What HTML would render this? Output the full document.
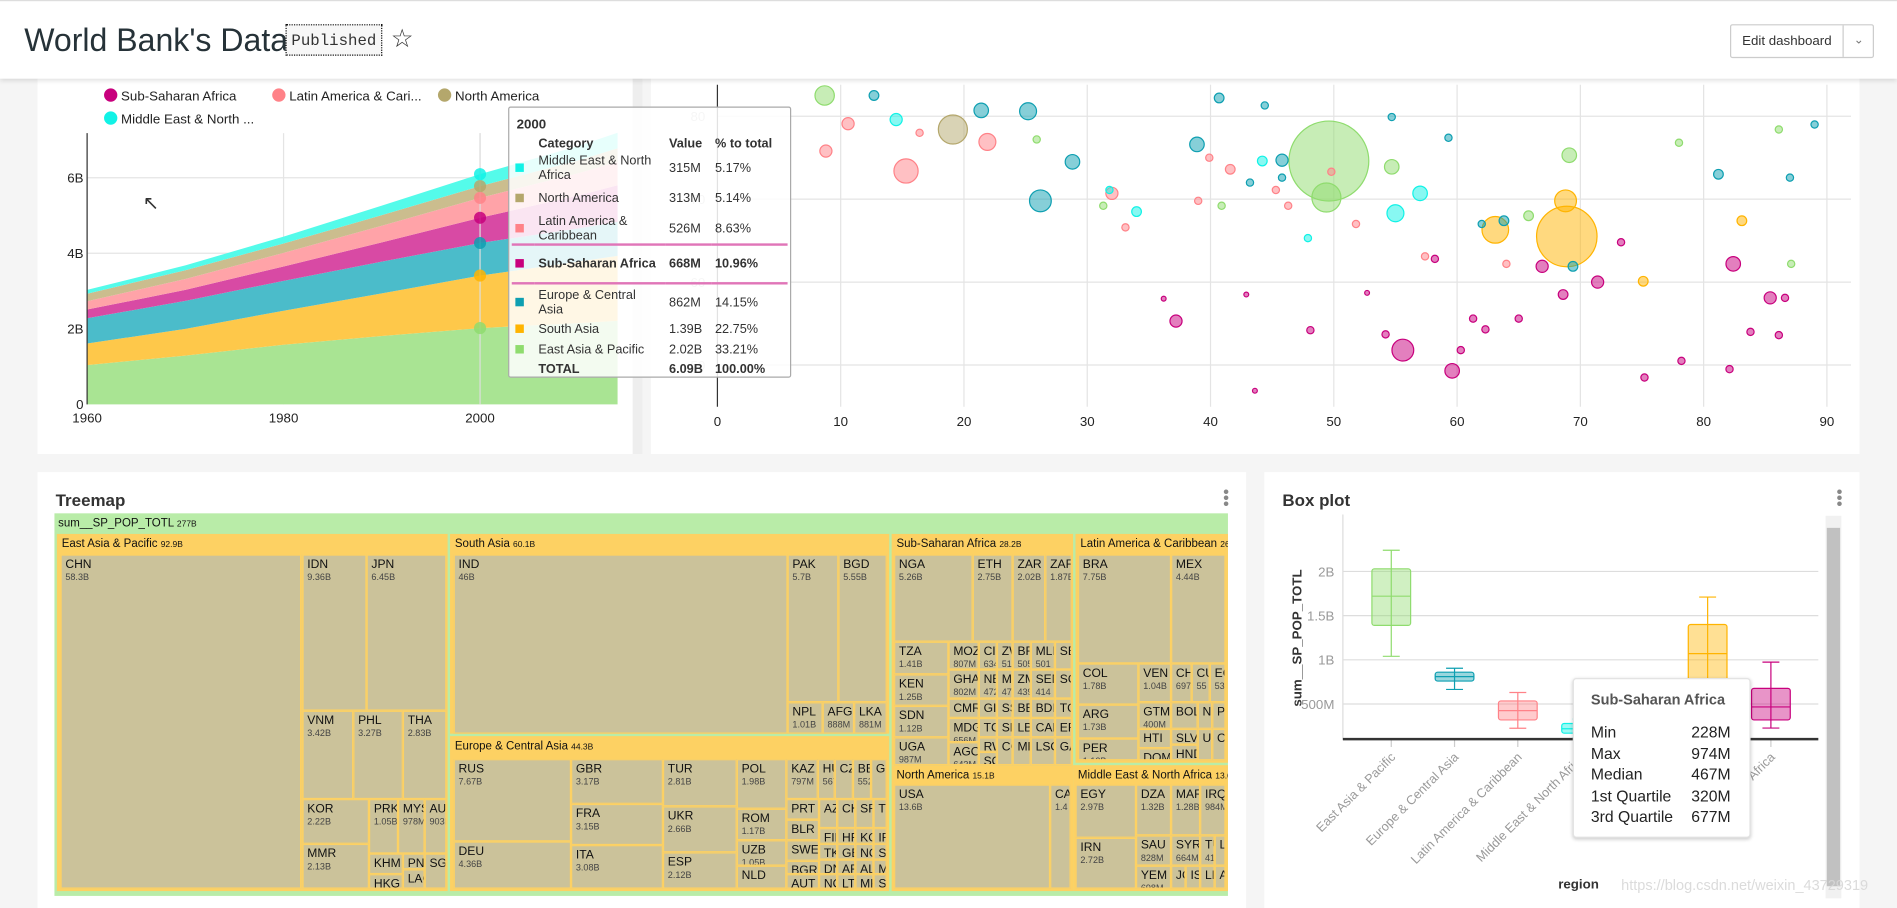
<!DOCTYPE html>
<html><head><meta charset="utf-8">
<style>
html,body{margin:0;padding:0;width:1897px;height:908px;overflow:hidden;background:#f5f5f5;font-family:"Liberation Sans",sans-serif;}
#stage{position:absolute;left:0;top:0;width:1568px;height:750px;transform:scale(1.2098,1.2107);transform-origin:0 0;background:#f5f5f5;}
.abs{position:absolute;}
.panel{position:absolute;background:#fff;}
.cell{position:absolute;box-sizing:border-box;background:#cbc29a;border:1px solid #fdd163;overflow:hidden;font-size:10px;line-height:11px;color:#111;padding:2px 3px;white-space:nowrap;}
.cell small{display:block;font-size:7.5px;color:#444;line-height:9px;}
.grp{position:absolute;box-sizing:border-box;background:#fdd163;overflow:hidden;font-size:9.5px;padding:3px 4px;white-space:nowrap;color:#111;}
.grp small{font-size:7px;}
.tt{table-layout:fixed;}
.tt td{padding:0 3px;font-size:10.5px;color:#333;vertical-align:middle;line-height:12px;overflow:hidden;white-space:normal;}
.tt td:nth-child(3),.tt td:nth-child(4){white-space:nowrap;}
</style></head>
<body>
<div id="stage">
  <!-- panels -->
  <div class="panel" style="left:31px;top:60px;width:492px;height:315px"></div>
  <div class="abs" style="left:523px;top:60px;width:8px;height:315px;background:#eee"></div>
  <div class="panel" style="left:538px;top:60px;width:999px;height:315px"></div>
  <div class="panel" style="left:31px;top:390px;width:999px;height:360px"></div>
  <div class="panel" style="left:1045px;top:390px;width:492px;height:360px"></div>

  <svg id="svg" class="abs" style="left:0;top:0" width="1568" height="750"></svg>

  <!-- area legend -->
  <div class="abs" style="left:86px;top:71px;font-size:11px;color:#222;line-height:19px">
    <div style="position:absolute;left:0;top:0;white-space:nowrap"><span style="display:inline-block;width:11px;height:11px;border-radius:50%;background:#c8007d;vertical-align:-1px"></span> Sub-Saharan Africa</div>
    <div style="position:absolute;left:139px;top:0;white-space:nowrap"><span style="display:inline-block;width:11px;height:11px;border-radius:50%;background:#ff8288;vertical-align:-1px"></span> Latin America &amp; Cari...</div>
    <div style="position:absolute;left:276px;top:0;white-space:nowrap"><span style="display:inline-block;width:11px;height:11px;border-radius:50%;background:#b4a76c;vertical-align:-1px"></span> North America</div>
    <div style="position:absolute;left:0;top:19px;white-space:nowrap"><span style="display:inline-block;width:11px;height:11px;border-radius:50%;background:#11f2e6;vertical-align:-1px"></span> Middle East &amp; North ...</div>
  </div>

  <!-- area tooltip -->
  <div class="abs" style="left:420px;top:88px;width:232px;height:222px;background:rgba(255,255,255,0.86);border:1px solid #aaa;border-radius:2px">
    <div style="position:absolute;left:6px;top:8px;font-size:11px;font-weight:bold;color:#333">2000</div>
    <table class="tt" style="position:absolute;left:2px;top:22px;border-collapse:collapse;width:228px">
      <colgroup><col style="width:19px"><col style="width:108px"><col style="width:38px"><col style="width:63px"></colgroup>
      <tr style="font-weight:bold;height:16px"><td></td><td>Category</td><td>Value</td><td>% to total</td></tr>
      <tr style="height:22px"><td><span style="display:inline-block;width:7px;height:7px;background:#11f2e6"></span></td><td>Middle East &amp; North Africa</td><td>315M</td><td>5.17%</td></tr>
      <tr style="height:26px"><td><span style="display:inline-block;width:7px;height:7px;background:#b4a76c"></span></td><td>North America</td><td>313M</td><td>5.14%</td></tr>
      <tr style="height:22px"><td><span style="display:inline-block;width:7px;height:7px;background:#ff8288"></span></td><td>Latin America &amp; Caribbean</td><td>526M</td><td>8.63%</td></tr>
      <tr style="height:32px;font-weight:bold;border-top:2px solid #e075b8;border-bottom:2px solid #e075b8"><td><span style="display:inline-block;width:7px;height:7px;background:#c8007d"></span></td><td style="font-weight:bold">Sub-Saharan Africa</td><td style="font-weight:bold">668M</td><td style="font-weight:bold">10.96%</td></tr>
      <tr style="height:30px"><td><span style="display:inline-block;width:7px;height:7px;background:#0e9fb1"></span></td><td>Europe &amp; Central Asia</td><td>862M</td><td>14.15%</td></tr>
      <tr style="height:16px"><td><span style="display:inline-block;width:7px;height:7px;background:#ffb400"></span></td><td>South Asia</td><td>1.39B</td><td>22.75%</td></tr>
      <tr style="height:17px"><td><span style="display:inline-block;width:7px;height:7px;background:#8fdc6e"></span></td><td>East Asia &amp; Pacific</td><td>2.02B</td><td>33.21%</td></tr>
      <tr style="height:15px;font-weight:bold"><td></td><td style="font-weight:bold">TOTAL</td><td style="font-weight:bold">6.09B</td><td style="font-weight:bold">100.00%</td></tr>
    </table>
  </div>
  <div class="abs" style="left:118px;top:158px;font-size:16px;color:#333">&#8598;</div>

  <!-- treemap -->
  <div class="abs" style="left:46px;top:405px;font-size:14px;font-weight:bold;color:#333">Treemap</div>
  <div class="abs" style="left:1011px;top:404px;font-size:14px;color:#888;line-height:5px">&#8226;<br>&#8226;<br>&#8226;</div>
  <div id="tm" class="abs" style="left:45px;top:424px;width:970px;height:316px;background:#b9eca8">
    <div style="position:absolute;left:3px;top:3px;font-size:9.5px;color:#111">sum__SP_POP_TOTL <span style="font-size:7px">277B</span></div>
  </div>

  <!-- box plot -->
  <div class="abs" style="left:1060px;top:405px;font-size:14px;font-weight:bold;color:#333">Box plot</div>
  <div class="abs" style="left:1518px;top:404px;font-size:14px;color:#888;line-height:5px">&#8226;<br>&#8226;<br>&#8226;</div>
  <div class="abs" style="left:1509px;top:426px;width:13px;height:316px;background:#f1f1f1"><div style="position:absolute;left:1px;top:10px;width:11px;height:296px;background:#c1c1c1"></div></div>
  <div class="abs" style="left:1300px;top:560px;width:145px;height:130px;background:#fff;border:1px solid #e3e3e3;border-radius:3px;box-shadow:0 1px 3px rgba(0,0,0,0.2);font-size:13px;color:#222">
    <div style="position:absolute;left:14px;top:10px;font-weight:bold;font-size:12px;color:#555">Sub-Saharan Africa</div>
    <div style="position:absolute;left:14px;top:35px;line-height:17.5px">Min<br>Max<br>Median<br>1st Quartile<br>3rd Quartile</div>
    <div style="position:absolute;left:97px;top:35px;line-height:17.5px">228M<br>974M<br>467M<br>320M<br>677M</div>
  </div>
  <div class="abs" style="left:1288px;top:725px;font-size:11px;font-weight:bold;color:#333">region</div>
  <div class="abs" style="left:1340px;top:724px;font-size:12px;color:rgba(215,215,215,0.9)">https://blog.csdn.net/weixin_43729319</div>

  <!-- header -->
  <div class="abs" style="left:0;top:0;width:1568px;height:65px;background:#fff;box-shadow:0 2px 4px rgba(0,0,0,0.12);border-top:1px solid #ddd;box-sizing:border-box">
    <div style="position:absolute;left:20px;top:17px;font-size:26.5px;color:#263238">World Bank's Data</div>
    <div style="position:absolute;left:236px;top:19px;width:80px;height:26px;border:1px dotted #111;background:#f7f7f7;font-family:'Liberation Mono',monospace;font-size:13px;line-height:26px;text-align:center;color:#333;box-sizing:border-box">Published</div>
    <div style="position:absolute;left:323px;top:19px;font-size:21px;color:#333">&#9734;</div>
    <div style="position:absolute;left:1430px;top:19px;width:119px;height:28px;border:1px solid #ccc;border-radius:2px;box-sizing:border-box;font-size:11px;color:#333">
      <div style="position:absolute;left:0;top:0;width:92px;height:26px;line-height:26px;text-align:center;border-right:1px solid #ccc">Edit dashboard</div>
      <div style="position:absolute;left:93px;top:0;width:25px;height:26px;line-height:26px;text-align:center;color:#777;font-size:10px">&#8964;</div>
    </div>
  </div>
</div>
<script>
const NS='http://www.w3.org/2000/svg';
const svg=document.getElementById('svg');
function mk(tag,attrs,parent){const e=document.createElementNS(NS,tag);for(const k in attrs)e.setAttribute(k,attrs[k]);(parent||svg).appendChild(e);return e;}

/* ---------- AREA CHART DATA ---------- */
const years=[1960,1970,1980,1990,2000,2010,2014];
const areaRegions=['East Asia & Pacific','South Asia','Europe & Central Asia','Sub-Saharan Africa','Latin America & Caribbean','North America','Middle East & North Africa'];
const popEAP=[1.04,1.29,1.58,1.81,2.02,2.15,2.21];
const popSA=[0.57,0.71,0.90,1.13,1.39,1.63,1.72];
const popECA=[0.67,0.74,0.79,0.84,0.862,0.88,0.90];
const popSSA=[0.23,0.29,0.38,0.51,0.668,0.87,0.97];
const popLAC=[0.22,0.29,0.36,0.44,0.526,0.59,0.62];
const popNA=[0.20,0.23,0.25,0.28,0.313,0.34,0.36];
const popMENA=[0.10,0.13,0.18,0.25,0.315,0.38,0.41];
const areaYTicks=[0,2,4,6];
const areaYTickLabels=['0','2B','4B','6B'];
const areaXTicks=[1960,1980,2000];
const hoverYear=2000;

/* ---------- BUBBLE DATA ---------- */
const bubbleX=[49.6,49.4,68.9,68.8,63.1,19.1,15.3,26.2,8.7,69.1,54.7,55.6,82.4,37.2,59.6,57.0,55.0,28.8,21.4,21.9,32.0,38.9,66.9,71.4,85.4,81.2,83.1,75.1,25.2,10.6,14.5,12.7,41.6,44.2,45.8,65.8,63.8,
48.1,54.2,61.3,62.3,65.0,60.3,78.2,75.2,83.8,82.1,43.6,36.2,42.9,58.2,73.3,86.1,86.6,68.6,52.7,
40.7,44.4,43.2,45.8,54.7,59.3,69.4,62.0,87.0,89.0,
45.3,49.8,46.3,51.8,57.4,64.0,33.1,39.0,39.9,8.8,16.4,
25.9,40.9,31.3,78.0,86.1,87.1,34.0,47.9,31.8];
const bubbleY=[74.6,70.2,65.5,69.8,66.3,78.4,73.4,69.8,82.5,75.3,73.9,51.8,62.2,55.3,49.3,70.7,68.3,74.5,80.7,76.9,70.7,76.6,61.9,60.0,58.1,73.0,67.4,60.1,80.6,79.1,79.6,82.5,73.6,74.6,74.7,68.0,67.4,
54.2,53.7,55.6,54.3,55.6,51.8,50.5,48.5,54.0,49.5,46.9,58.0,58.5,62.8,64.8,53.6,58.1,58.5,58.7,
82.2,81.3,72.0,72.6,79.9,77.4,61.9,67.0,72.6,79.0,
71.1,73.3,69.2,67.0,63.1,62.2,66.6,69.8,75.0,75.8,78.0,
77.2,69.2,69.2,76.8,78.4,62.2,68.5,65.3,71.1];
const bubbleSize=[33,12,25,9,11,12,10,9,8,6,6,9,6,5,6,6,7,6,6,7,5,6,5,5,5,4,4,4,7,5,5,4,4,4,5,4,4,
3,3,3,3,3,3,3,3,3,3,2,2,2,3,3,3,3,4,2,
4,3,3,3,3,3,4,3,3,3,
3,3,3,3,3,3,3,3,3,5,3,
3,3,3,3,3,3,4,3,3];
const bubbleRegion=['g','g','o','o','o','n','p','t','g','g','g','m','m','m','m','c','c','t','t','p','p','t','m','m','m','t','o','o','t','p','c','t','p','c','t','g','t',
'm','m','m','m','m','m','m','m','m','m','m','m','m','m','m','m','m','m','m',
't','t','t','t','t','t','t','t','t','t',
'p','p','p','p','p','p','p','p','p','p','p',
'g','g','g','g','g','g','c','c','c'];
const bubbleXTicks=[0,10,20,30,40,50,60,70,80,90];
const bubbleYTicks=[50,60,70,80];

/* ---------- BOX PLOT DATA ---------- */
const boxCategories=['East Asia & Pacific','Europe & Central Asia','Latin America & Caribbean','Middle East & North Africa','North America','South Asia','Sub-Saharan Africa'];
const boxMin=[1.04,0.665,0.226,0.12,0.25,0.41,0.228];
const boxQ1=[1.39,0.76,0.32,0.17,0.27,0.75,0.32];
const boxMedian=[1.72,0.81,0.425,0.22,0.285,1.07,0.467];
const boxQ3=[2.03,0.86,0.535,0.28,0.30,1.40,0.677];
const boxMax=[2.24,0.905,0.63,0.33,0.32,1.71,0.974];
const boxYTicks=[0.5,1,1.5,2];
const boxYTickLabels=['500M','1B','1.5B','2B'];

const colors={g:'#8fdc6e',o:'#ffb400',t:'#0e9fb1',m:'#c8007d',p:'#ff8288',n:'#b4a76c',c:'#11f2e6'};
const areaFill=['#a9e493','#fec84a','#4bbcca','#d84aa4','#ffa3a8','#cbbd8e','#54fbea'];
const areaDot=['#8fdc6e','#ffb400','#0e9fb1','#c8007d','#ff8288','#b4a76c','#11f2e6'];

/* ---------- AREA CHART ---------- */
const ax=y=>72+(y-1960)*8.12, ay=v=>334-v*31.2;
const ag=mk('g',{});


areaYTicks.forEach((t,i)=>{
  if(t>0){const l=mk('line',{x1:72,x2:508,y1:ay(t),y2:ay(t),stroke:'#e4e4e4'},ag);
  
  }
  const tx=mk('text',{x:69,y:ay(t)+4,'text-anchor':'end','font-size':11,fill:'#222'},ag);tx.textContent=areaYTickLabels[i];
  
  
});
areaXTicks.forEach(t=>{
  const l=mk('line',{x1:ax(t),x2:ax(t),y1:110,y2:334,stroke:'#e4e4e4'},ag);
  
  
  const tx=mk('text',{x:ax(t),y:349,'text-anchor':'middle','font-size':11,fill:'#222'},ag);tx.textContent=t;
  
  
});
const series=[popEAP,popSA,popECA,popSSA,popLAC,popNA,popMENA];
let base=years.map(()=>0);
const tops=[];
series.forEach((s,si)=>{
  const top=s.map((v,i)=>base[i]+v);
  let d='M'+years.map((y,i)=>ax(y)+','+ay(top[i])).join('L');
  for(let i=years.length-1;i>=0;i--)d+='L'+ax(years[i])+','+ay(base[i]);
  const p=mk('path',{d:d+'Z',fill:areaFill[si],stroke:'none'},ag);
  
  
  tops.push(top);base=top;
});
mk('line',{x1:72,x2:72,y1:110,y2:334,stroke:'#333'},ag);
mk('line',{x1:ax(hoverYear),x2:ax(hoverYear),y1:110,y2:334,stroke:'#ddd'},ag);
const hi=years.indexOf(hoverYear);
tops.forEach((t,si)=>{
  const c=mk('circle',{cx:ax(hoverYear),cy:ay(t[hi]),r:5,fill:areaDot[si],opacity:0.85},ag);
  
  
});

/* ---------- BUBBLE CHART ---------- */
const bx=v=>593+v*10.19, by=v=>96+(80-v)*6.85;
const bg=mk('g',{});


const clip=mk('clipPath',{id:'bclip'});mk('rect',{x:540,y:62,width:990,height:274},clip);
bubbleYTicks.forEach(t=>{
  const l=mk('line',{x1:593,x2:1530,y1:by(t),y2:by(t),stroke:'#e4e4e4'},bg);
  
  
  const tx=mk('text',{x:583,y:by(t)+4,'text-anchor':'end','font-size':11,fill:'#bbb'},bg);tx.textContent=t;
  
  
});
bubbleXTicks.forEach(t=>{
  if(t>0){const l=mk('line',{x1:bx(t),x2:bx(t),y1:70,y2:336,stroke:'#e4e4e4'},bg);
  
  }
  const tx=mk('text',{x:bx(t),y:352,'text-anchor':'middle','font-size':11,fill:'#222'},bg);tx.textContent=t;
  
  
});
mk('line',{x1:593,x2:593,y1:70,y2:336,stroke:'#333'},bg);
const bgc=mk('g',{'clip-path':'url(#bclip)'},bg);
bubbleX.forEach((v,i)=>{
  const col=colors[bubbleRegion[i]];
  const c=mk('circle',{cx:bx(v),cy:by(bubbleY[i]),r:bubbleSize[i],fill:col,'fill-opacity':0.5,stroke:col,'stroke-width':1},bgc);
  
  
});

/* ---------- BOX PLOT ---------- */
const boxX=i=>1150+i*52.3, boxY=v=>618-v*73;
const pg=mk('g',{});


boxYTicks.forEach((t,i)=>{
  const l=mk('line',{x1:1110,x2:1503,y1:boxY(t),y2:boxY(t),stroke:'#ddd'},pg);
  
  
  const tx=mk('text',{x:1103,y:boxY(t)+4,'text-anchor':'end','font-size':11,fill:'#999'},pg);tx.textContent=boxYTickLabels[i];
  
  
});
mk('line',{x1:1110,x2:1110,y1:425,y2:611,stroke:'#ddd'},pg);
const yt=mk('text',{x:0,y:0,'font-size':11,'font-weight':'bold',fill:'#333','text-anchor':'middle',transform:'translate(1076,527) rotate(-90)'},pg);
yt.textContent='sum__SP_POP_TOTL';


const bcol=['g','t','p','c','n','o','m'];
boxCategories.forEach((c,i)=>{
  const x=boxX(i),col=colors[bcol[i]];
  const g=mk('g',{},pg);
  
  
  mk('line',{x1:x,x2:x,y1:boxY(boxMax[i]),y2:boxY(boxMin[i]),stroke:col},g);
  mk('line',{x1:x-7,x2:x+7,y1:boxY(boxMax[i]),y2:boxY(boxMax[i]),stroke:col},g);
  mk('line',{x1:x-7,x2:x+7,y1:boxY(boxMin[i]),y2:boxY(boxMin[i]),stroke:col},g);
  mk('rect',{x:x-16,y:boxY(boxQ3[i]),width:32,height:boxY(boxQ1[i])-boxY(boxQ3[i]),fill:col,'fill-opacity':0.42,stroke:col,rx:2},g);
  mk('line',{x1:x-16,x2:x+16,y1:boxY(boxMedian[i]),y2:boxY(boxMedian[i]),stroke:col},g);
  mk('line',{x1:x,x2:x,y1:611,y2:617,stroke:'#ccc'},pg);
  const t=mk('text',{x:0,y:0,'font-size':10.5,fill:'#999','text-anchor':'end',transform:`translate(${x+4},${626}) rotate(-45)`},pg);
  t.textContent=c;
  
  
});
mk('line',{x1:1110,x2:1503,y1:610.5,y2:610.5,stroke:'#333','stroke-width':2},pg);

/* ---------- TREEMAP ---------- */
const tm=document.getElementById('tm');
const OX=45,OY=424;
const tmGroups=[
 ['East Asia & Pacific','92.9B',47,441,370,736],
 ['South Asia','60.1B',372,441,735,606],
 ['Europe & Central Asia','44.3B',372,608,735,736],
 ['Sub-Saharan Africa','28.2B',737,441,887,632],
 ['North America','15.1B',737,632,887,736],
 ['Latin America & Caribbean','26.4B',889,441,1015,630],
 ['Middle East & North Africa','13.6B',887,632,1015,736]];
const tmCells=[
 ['CHN','58.3B',50,458,249,734],['IDN','9.36B',250,458,303,587],['JPN','6.45B',303,458,369,587],
 ['VNM','3.42B',250,587,292,660],['PHL','3.27B',292,587,333,660],['THA','2.83B',333,587,369,660],
 ['KOR','2.22B',250,660,305,697],['MMR','2.13B',250,697,305,734],['PRK','1.05B',305,660,329,705],
 ['MYS','978M',329,660,351,705],['AUS','903M',351,660,369,705],['KHM','',305,705,333,722],['HKG','',305,722,333,734],
 ['PNG','',333,705,351,718],['LAO','',333,718,351,734],['SGP','',351,705,369,734],
 ['IND','46B',375,458,651,606],['PAK','5.7B',651,458,693,580],['BGD','5.55B',693,458,733,580],
 ['NPL','1.01B',651,580,680,606],['AFG','888M',680,580,706,606],['LKA','881M',706,580,733,606],
 ['RUS','7.67B',375,627,472,695],['DEU','4.36B',375,695,472,734],['GBR','3.17B',472,627,548,664],
 ['FRA','3.15B',472,664,548,698],['ITA','3.08B',472,698,548,734],['TUR','2.81B',548,627,609,666],
 ['UKR','2.66B',548,666,609,704],['ESP','2.12B',548,704,609,734],['POL','1.98B',609,627,650,668],
 ['ROM','1.17B',609,668,650,694],['UZB','1.05B',609,694,650,715],['NLD','',609,715,650,734],
 ['KAZ','797M',650,627,676,660],['HUN','567',676,627,690,660],['CZE','',690,627,705,660],['BEL','552',705,627,720,660],['GRC','',720,627,733,660],
 ['PRT','',650,660,677,677],['BLR','',650,677,677,694],['SWE','',650,694,677,711],['BGR','',650,711,677,722],['AUT','',650,722,677,734],
 ['AZE','',677,660,692,684],['CHE','',692,660,707,684],['SRB','',707,660,722,684],['TJK','',722,660,733,684],
 ['FIN','',677,684,692,697],['HRV','',692,684,707,697],['KGZ','',707,684,722,697],['IRL','',722,684,733,697],
 ['TKM','',677,697,692,710],['GEO','',692,697,707,710],['NOR','',707,697,722,710],['SVK','',722,697,733,710],
 ['DNK','',677,710,692,722],['ARM','',692,710,707,722],['ALB','',707,710,722,722],['MDA','',722,710,733,722],
 ['NOR','',677,722,692,734],['LTU','',692,722,707,734],['MKD','',707,722,722,734],['SVN','',722,722,733,734],
 ['NGA','5.26B',739,458,804,530],['ETH','2.75B',804,458,837,530],['ZAR','2.02B',837,458,864,530],['ZAF','1.87B',864,458,886,530],
 ['TZA','1.41B',739,530,784,557],['KEN','1.25B',739,557,784,583],['SDN','1.12B',739,583,784,609],['UGA','987M',739,609,784,632],
 ['MOZ','807M',784,530,809,553],['GHA','802M',784,553,809,577],['CMR','684M',784,577,809,593],['MDG','656M',784,593,809,613],['AGO','643M',784,613,809,632],
 ['CIV','634M',809,530,824,553],['ZWE','510',824,530,837,553],['BFA','505',837,530,852,553],['MLI','501',852,530,872,553],['SEN','',872,530,886,553],
 ['NER','472',809,553,824,577],['MWI','471',824,553,837,577],['ZMB','439',837,553,852,577],['SEN','414',852,553,872,577],['SOM','',872,553,886,577],
 ['GIN','',809,577,824,593],['SSD','',824,577,837,593],['BEN','',837,577,852,593],['BDI','',852,577,872,593],['TGO','',872,577,886,593],
 ['TCD','',809,593,824,609],['SLE','',824,593,837,609],['LBR','',837,593,852,609],['CAF','',852,593,872,609],['ERI','',872,593,886,609],
 ['RWA','',809,609,824,621],['SOM','',809,621,824,632],['COG','',824,609,837,632],['MRT','',837,609,852,632],['LSO','',852,609,872,632],['GAB','',872,609,886,632],
 ['USA','13.6B',739,648,868,734],['CAN','1.4',868,648,885,734],
 ['BRA','7.75B',891,458,968,548],['MEX','4.44B',968,458,1013,548],['COL','1.78B',891,548,941,582],['ARG','1.73B',891,582,941,610],['PER','1.12B',891,610,941,628],
 ['VEN','1.04B',941,548,968,580],['CHL','697',968,548,985,580],['CUB','55',985,548,1000,580],['ECU','53',1000,548,1013,580],
 ['GTM','400M',941,580,968,602],['BOL','',968,580,990,602],['NIC','',990,580,1002,602],['PRY','',1002,580,1013,602],
 ['HTI','',941,602,968,618],['DOM','',941,618,968,628],['SLV','',968,602,990,615],['HND','',968,615,990,628],['URY','',990,602,1002,628],['CRI','',1002,602,1013,628],
 ['EGY','2.97B',889,648,939,692],['IRN','2.72B',889,692,939,734],['DZA','1.32B',939,648,968,690],['MAR','1.28B',968,648,992,690],['IRQ','984M',992,648,1013,690],
 ['SAU','828M',939,690,968,715],['SYR','664M',968,690,992,715],['TUN','41',992,690,1004,715],['LBY','',1004,690,1013,715],
 ['YEM','698M',939,715,968,734],['JOR','',968,715,980,734],['ISR','',980,715,992,734],['LBN','',992,715,1004,734],['ARE','',1004,715,1013,734]];
tmGroups.forEach(g=>{
  const d=document.createElement('div');d.className='grp';
  d.style.left=(g[2]-OX)+'px';d.style.top=(g[3]-OY)+'px';d.style.width=(g[4]-g[2])+'px';d.style.height=(g[5]-g[3])+'px';
  d.innerHTML=g[0]+' <small>'+g[1]+'</small>';
  
  
  tm.appendChild(d);
});
tmCells.forEach(c=>{
  const d=document.createElement('div');d.className='cell';
  d.style.left=(c[2]-OX)+'px';d.style.top=(c[3]-OY)+'px';d.style.width=(c[4]-c[2])+'px';d.style.height=(c[5]-c[3])+'px';
  d.innerHTML=c[0]+(c[1]?'<small>'+c[1]+'</small>':'');
  
  
  tm.appendChild(d);
});
</script>
</body></html>
